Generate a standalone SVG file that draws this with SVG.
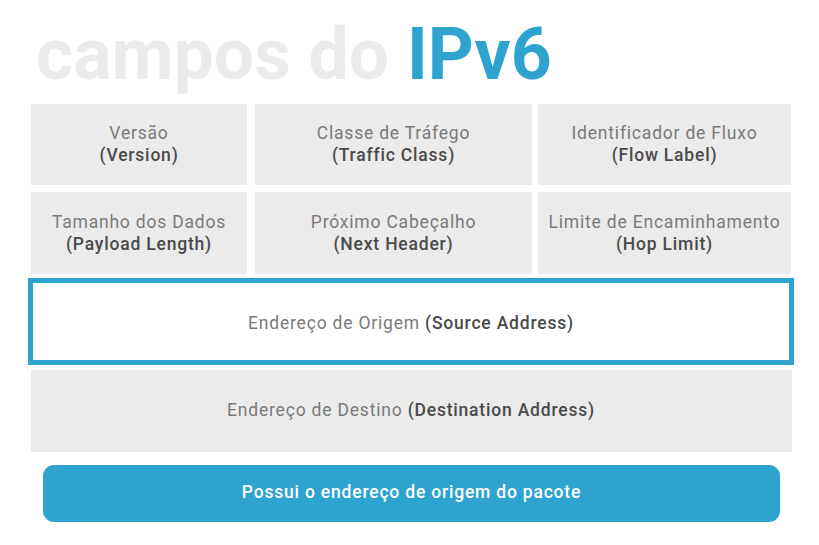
<svg xmlns="http://www.w3.org/2000/svg" width="819" height="545" viewBox="0 0 819 545">
<style>
.box{fill:#ebebeb}
.t{font-family:Roboto,"Liberation Sans",sans-serif;font-size:17.5px;letter-spacing:0.8px;text-anchor:middle;fill:#7a7a7a}
.b{font-weight:500;fill:#4a4a4a}
.title{font-family:Roboto,"Liberation Sans",sans-serif;font-size:71.5px;font-weight:bold}
</style>
<rect width="819" height="545" fill="#ffffff"/>
<text id="title" class="title" x="36" y="79"><tspan fill="#ebebeb">campos do </tspan><tspan fill="#2ea3cf">IPv6</tspan></text>
<g id="version"><rect class="box" x="31" y="104" width="216" height="81"/><text class="t" x="139" y="139">Versão</text><text class="t b" x="139" y="161">(Version)</text></g>
<g id="traffic-class"><rect class="box" x="255" y="104" width="277" height="81"/><text class="t" x="393.5" y="139">Classe de Tráfego</text><text class="t b" x="393.5" y="161">(Traffic Class)</text></g>
<g id="flow-label"><rect class="box" x="538" y="104" width="253" height="81"/><text class="t" x="664.5" y="139">Identificador de Fluxo</text><text class="t b" x="664.5" y="161">(Flow Label)</text></g>
<g id="payload-length"><rect class="box" x="31" y="192" width="216" height="82"/><text class="t" x="139" y="228">Tamanho dos Dados</text><text class="t b" x="139" y="250">(Payload Length)</text></g>
<g id="next-header"><rect class="box" x="255" y="192" width="277" height="82"/><text class="t" x="393.5" y="228">Próximo Cabeçalho</text><text class="t b" x="393.5" y="250">(Next Header)</text></g>
<g id="hop-limit"><rect class="box" x="538" y="192" width="253" height="82"/><text class="t" x="664.5" y="228">Limite de Encaminhamento</text><text class="t b" x="664.5" y="250">(Hop Limit)</text></g>
<g id="source-address"><rect x="30.5" y="280.5" width="761" height="82" fill="#ffffff" stroke="#2ea3cf" stroke-width="5"/><text class="t" x="411" y="329">Endereço de Origem <tspan class="b">(Source Address)</tspan></text></g>
<g id="destination-address"><rect class="box" x="31" y="370" width="761" height="82"/><text class="t" x="411" y="416">Endereço de Destino <tspan class="b">(Destination Address)</tspan></text></g>
<g id="note"><rect x="43" y="465" width="737" height="57" rx="11" fill="#2ea3cf"/><text class="t b" x="411.5" y="498" style="fill:#ffffff">Possui o endereço de origem do pacote</text></g>
<g id="connectors"/>
</svg>
